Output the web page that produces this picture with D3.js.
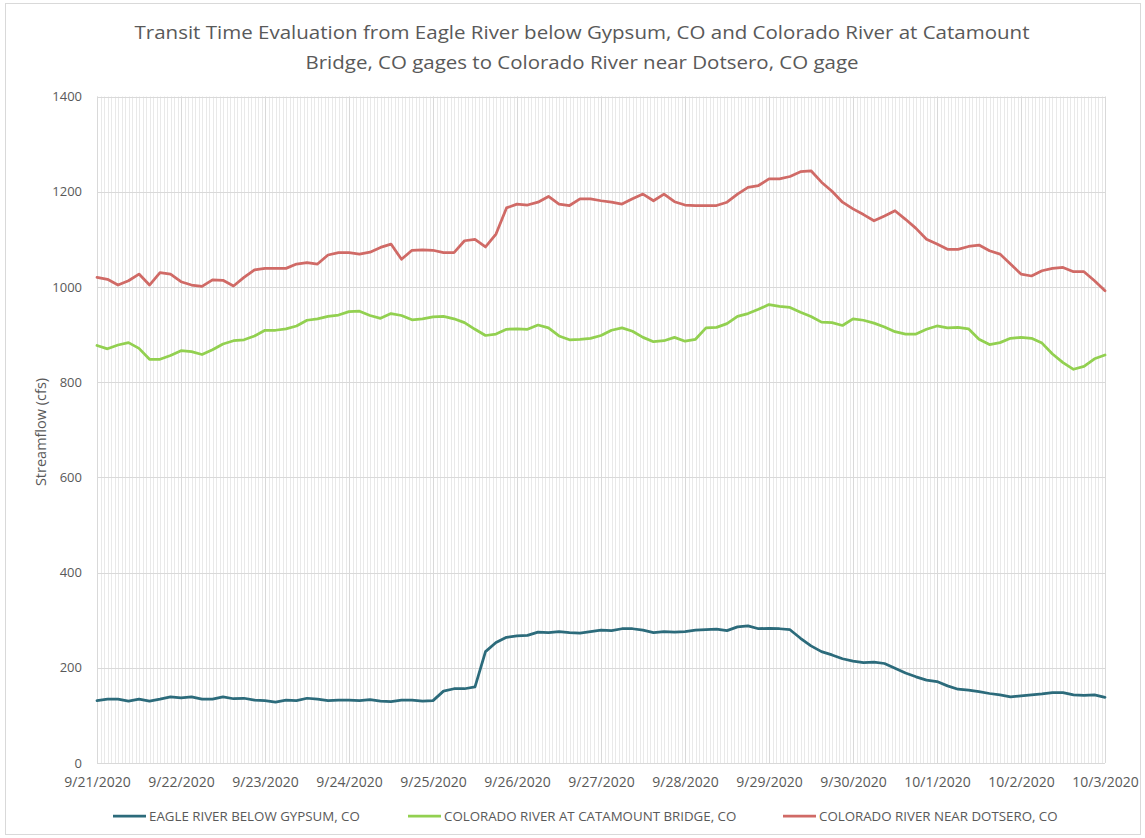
<!DOCTYPE html>
<html>
<head>
<meta charset="utf-8">
<script src="https://cdn.jsdelivr.net/npm/d3@7"></script>
<style>
  body { margin: 0; background: #fff; }
  svg text { font-family: "Open Sans", sans-serif; fill: #595959; }
</style>
</head>
<body>
<div id="chart"></div>
<script>
// readings every 3 hours, starting 9/21/2020 00:00
var startTime = Date.UTC(2020, 8, 21, 0);
var stepHours = 3;

var eagle = [
    131, 134, 134, 130, 134, 130, 134, 139,
    137, 139, 134, 134, 139, 135, 136, 132,
    131, 128, 132, 131, 136, 134, 131, 132,
    132, 131, 133, 130, 129, 132, 132, 130,
    131, 151, 156, 156, 160, 234, 253, 264,
    267, 268, 275, 274, 276, 274, 273, 276,
    279, 278, 282, 282, 279, 274, 276, 275,
    276, 279, 280, 281, 278, 286, 288, 282,
    283, 282, 280, 262, 246, 234, 227, 219,
    214, 211, 212, 209, 199, 189, 181, 174,
    171, 162, 155, 153, 150, 146, 143, 139,
    141, 143, 145, 148, 148, 143, 142, 143,
    138
];

var catamount = [
    877, 870, 878, 883, 871, 848, 848, 856,
    866, 864, 858, 868, 880, 887, 889, 897,
    909, 909, 912, 918, 930, 933, 938, 941,
    948, 949, 940, 934, 944, 940, 931, 933,
    937, 938, 933, 925, 911, 898, 901, 911,
    912, 911, 920, 914, 897, 889, 890, 892,
    898, 909, 914, 907, 894, 885, 887, 894,
    886, 890, 914, 915, 923, 938, 944, 953,
    963, 959, 957, 947, 938, 926, 925, 919,
    933, 930, 924, 916, 906, 901, 901, 911,
    918, 914, 915, 912, 890, 879, 883, 892,
    894, 892, 882, 859, 841, 827, 833, 849,
    857
];

var dotsero = [
    1020, 1016, 1004, 1013, 1027, 1004, 1030, 1027,
    1011, 1004, 1001, 1015, 1014, 1002, 1020, 1036,
    1039, 1039, 1039, 1048, 1051, 1048, 1067, 1072,
    1072, 1069, 1073, 1083, 1090, 1058, 1077, 1078,
    1077, 1072, 1072, 1097, 1100, 1084, 1111, 1166,
    1174, 1172, 1178, 1190, 1174, 1171, 1185, 1185,
    1181, 1178, 1174, 1185, 1195, 1181, 1195, 1179,
    1172, 1171, 1171, 1171, 1178, 1195, 1209, 1213,
    1227, 1227, 1232, 1242, 1244, 1220, 1201, 1178,
    1164, 1152, 1139, 1149, 1160, 1142, 1123, 1100,
    1090, 1079, 1079, 1085, 1088, 1076, 1069, 1048,
    1027, 1023, 1034, 1039, 1041, 1032, 1032, 1013,
    992
];

var seriesNames = ["EAGLE RIVER BELOW GYPSUM, CO", "COLORADO RIVER AT CATAMOUNT BRIDGE, CO", "COLORADO RIVER NEAR DOTSERO, CO"];
var seriesColors = ["#2c6b7b", "#92d050", "#d06a66"];
var yTicks = [0, 200, 400, 600, 800, 1000, 1200, 1400];
var titleLines = ["Transit Time Evaluation from Eagle River below Gypsum, CO and Colorado River at Catamount",
    "Bridge, CO gages to Colorado River near Dotsero, CO gage"];

var W = 1145, H = 838;
var plotLeft = 97, plotRight = 1105, plotTop = 96.5, plotBottom = 763;

var svg = d3.select("#chart")
    .append("svg")
    .attr("width", W)
    .attr("height", H);

// chart border
svg.append("rect")
    .attr("x", 5.5).attr("y", 3.5)
    .attr("width", 1135).attr("height", 831)
    .attr("fill", "#fff")
    .attr("stroke", "#d9d9d9");

var endTime = startTime + (eagle.length - 1) * stepHours * 3600000;
var x = d3.scaleUtc()
    .domain([new Date(startTime), new Date(endTime)])
    .range([plotLeft, plotRight]);
var y = d3.scaleLinear()
    .domain([0, 1400])
    .range([plotBottom, plotTop]);

// minor hourly gridlines
var hours = d3.utcHour.range(new Date(startTime), new Date(endTime));
svg.append("g").selectAll("line")
    .data(hours)
    .enter().append("line")
    .attr("x1", d => Math.round(x(d)) + 0.5)
    .attr("x2", d => Math.round(x(d)) + 0.5)
    .attr("y1", plotTop).attr("y2", plotBottom)
    .attr("stroke", "#e9e9e9");

// day gridlines
var days = d3.utcDay.range(new Date(startTime), new Date(endTime + 1));
svg.append("g").selectAll("line")
    .data(days)
    .enter().append("line")
    .attr("x1", d => Math.round(x(d)) + 0.5)
    .attr("x2", d => Math.round(x(d)) + 0.5)
    .attr("y1", plotTop).attr("y2", plotBottom)
    .attr("stroke", "#d9d9d9");

// horizontal gridlines
svg.append("g").selectAll("line")
    .data(yTicks)
    .enter().append("line")
    .attr("x1", plotLeft).attr("x2", plotRight)
    .attr("y1", d => Math.round(y(d)) + 0.5)
    .attr("y2", d => Math.round(y(d)) + 0.5)
    .attr("stroke", "#d9d9d9");

// y axis labels
var yAxis = svg.append("g")
    .attr("transform", "translate(" + plotLeft + ",0)")
    .call(d3.axisLeft(y).tickValues(yTicks).tickSize(0).tickPadding(15).tickFormat(d3.format("d")));
yAxis.select(".domain").remove();
yAxis.selectAll("text")
    .attr("font-size", "13px")
    .attr("font-family", "Open Sans")
    .attr("fill", "#595959");

// x axis labels
var xAxis = svg.append("g")
    .attr("transform", "translate(0," + plotBottom + ")")
    .call(d3.axisBottom(x).tickValues(days).tickSize(0).tickPadding(14).tickFormat(d3.utcFormat("%-m/%-d/%Y")));
xAxis.select(".domain").remove();
xAxis.selectAll("text")
    .attr("font-size", "14px")
    .attr("font-family", "Open Sans")
    .attr("fill", "#595959");

// lines
var allSeries = [eagle, catamount, dotsero];
var line = d3.line()
    .x((d, i) => x(new Date(startTime + i * stepHours * 3600000)))
    .y(d => y(d));
allSeries.forEach(function (s, k) {
    svg.append("path")
        .datum(s)
        .attr("d", line)
        .attr("fill", "none")
        .attr("stroke", seriesColors[k])
        .attr("stroke-width", 2.75)
        .attr("stroke-linejoin", "round")
        .attr("stroke-linecap", "round");
});

// title
svg.selectAll(".title")
    .data(titleLines)
    .enter().append("text")
    .attr("class", "title")
    .attr("x", 582)
    .attr("y", (d, i) => 39 + i * 30)
    .attr("text-anchor", "middle")
    .attr("font-size", "19px")
    .attr("textLength", (d, i) => i == 0 ? 895 : 553)
    .attr("lengthAdjust", "spacingAndGlyphs")
    .text(d => d);

// y axis title
svg.append("text")
    .attr("transform", "translate(46,432) rotate(-90)")
    .attr("text-anchor", "middle")
    .attr("font-size", "14.5px")
    .text("Streamflow (cfs)");

// legend
var legendX = [113, 408, 783];
var legend = svg.selectAll(".legend")
    .data(seriesNames)
    .enter().append("g")
    .attr("class", "legend")
    .attr("transform", (d, i) => "translate(" + legendX[i] + ",816)");
legend.append("line")
    .attr("x1", 0).attr("x2", 33)
    .attr("stroke", (d, i) => seriesColors[i])
    .attr("stroke-width", 2.75);
legend.append("text")
    .attr("x", 36)
    .attr("dy", "0.35em")
    .attr("font-size", "13.3px")
    .text(d => d);
</script>
</body>
</html>
